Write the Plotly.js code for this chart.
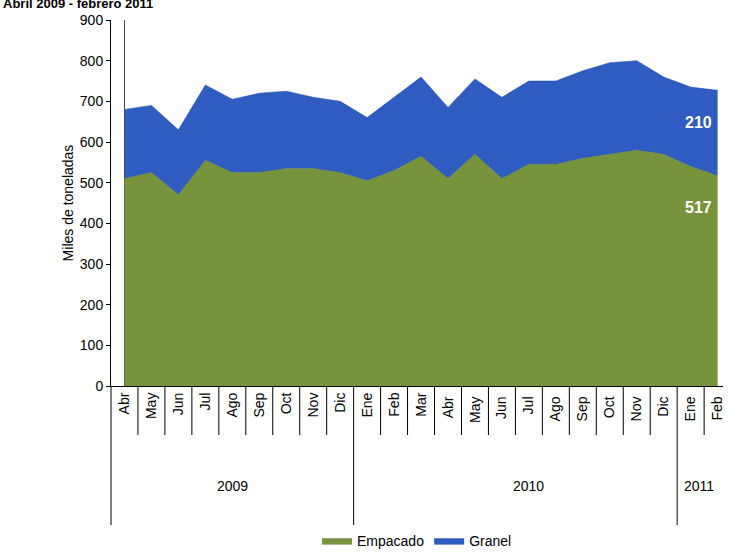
<html><head>
<meta charset="utf8"/>
<script src="https://cdn.plot.ly/plotly-3.0.1.min.js"></script>
<style>*{margin:0;padding:0}</style>
</head><body>
<div id="chart" style="width:731px;height:557px"></div>
<script>
var meses = ['Abr','May','Jun','Jul','Ago','Sep','Oct','Nov','Dic','Ene','Feb','Mar','Abr ','May ','Jun ','Jul ','Ago ','Sep ','Oct ','Nov ','Dic ','Ene ','Feb '];
var empacado = [510,525,470,555,525,525,535,535,525,505,530,565,510,570,510,545,545,560,570,580,570,540,517];
var granel = [170,165,160,185,180,195,190,175,175,155,180,195,175,185,200,205,205,215,225,220,190,195,210];
var anios = ['2009','2010','2011'];

var x = meses.map(function(m, i){ return i; });
var traces = [
    {x: x, y: empacado, name: 'Empacado', type: 'scatter', mode: 'lines', stackgroup: 'a',
     line: {width: 0.5, color: '#5f7a2c'}, fillcolor: '#77933c'},
    {x: x, y: granel, name: 'Granel', type: 'scatter', mode: 'lines', stackgroup: 'a',
     line: {width: 0.5, color: '#1f4a9e'}, fillcolor: '#2f5cc0'}
];
var n = meses.length;
var shapes = [];
for (var i = 0; i < n - 1; i++) {
    var yr = (i === 8 || i === 20);
    shapes.push({type: 'line', xref: 'x', yref: 'paper', x0: i + 0.5, x1: i + 0.5, y0: 0, y1: yr ? -0.38 : -0.134,
                 line: {color: '#000', width: 1}});
}
shapes.push({type: 'line', xref: 'paper', yref: 'paper', x0: 0, x1: 0, y0: 0, y1: -0.38, line: {color: '#000', width: 1}});
var layout = {
    width: 731, height: 557,
    margin: {l: 111, r: 8, t: 20, b: 171, autoexpand: false},
    paper_bgcolor: 'white', plot_bgcolor: 'white',
    font: {family: 'Liberation Sans, Arial', size: 14, color: '#000'},
    showlegend: true,
    legend: {orientation: 'h', traceorder: 'normal', x: 0.5, xanchor: 'center', yref: 'container', y: 0.0, yanchor: 'bottom', font: {size: 14}},
    xaxis: {range: [-0.5, n - 0.8], tickmode: 'array', tickvals: x, ticktext: meses,
            tickangle: -90, showgrid: false, showline: true, linecolor: '#000', ticks: ''},
    yaxis: {range: [0, 900], dtick: 100, showgrid: false, showline: true, linecolor: '#000',
            ticks: 'outside', ticklen: 4, tickcolor: '#000',
            title: {text: 'Miles de toneladas', font: {size: 14}}},
    annotations: [
        {xref: 'paper', yref: 'paper', x: -0.18, y: 1.07, xanchor: 'left', yanchor: 'top', showarrow: false,
         text: '<b>Abril 2009 - febrero 2011</b>', font: {size: 13}},
        {x: 21.3, y: 517 + 210 / 2 + 25, text: '<b>' + granel[n - 1] + '</b>', showarrow: false, font: {color: 'white', size: 16}},
        {x: 21.3, y: 440, text: '<b>' + empacado[n - 1] + '</b>', showarrow: false, font: {color: 'white', size: 16}},
        {xref: 'x', yref: 'paper', x: 4, y: -0.3, text: anios[0], showarrow: false},
        {xref: 'x', yref: 'paper', x: 15, y: -0.3, text: anios[1], showarrow: false},
        {xref: 'x', yref: 'paper', x: 21.3, y: -0.3, text: anios[2], showarrow: false}
    ],
    shapes: shapes
};
Plotly.newPlot('chart', traces, layout, {displayModeBar: false});
</script>
</body></html>
